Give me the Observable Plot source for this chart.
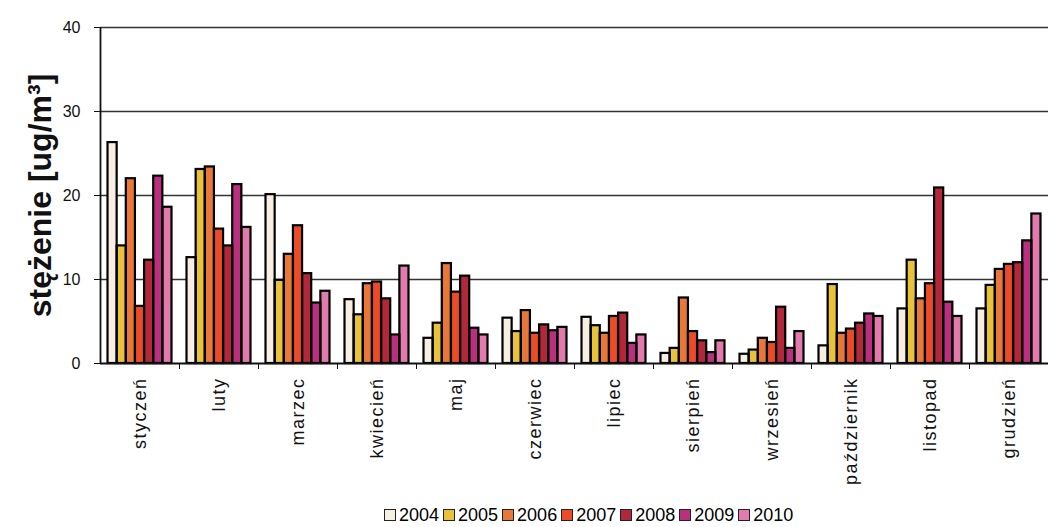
<!DOCTYPE html>
<html>
<head>
<meta charset="utf-8">
<script src="https://cdn.jsdelivr.net/npm/d3@7"></script>
<script src="https://cdn.jsdelivr.net/npm/@observablehq/plot@0.6"></script>
<style>
  html, body { margin: 0; padding: 0; background: #fff; }
  #chart { width: 1052px; }
  .legend { display: flex; margin-left: 384px; margin-top: 15px; font-family: "Liberation Sans", Arial, sans-serif; font-size: 18px; color: #000; line-height: 20px; }
  .legend .item { display: flex; align-items: center; margin-right: 4px; }
  .legend .sw { width: 10px; height: 10px; border: 1.5px solid #222; margin-right: 3px; }
  svg [aria-label="x-axis tick label"] text { letter-spacing: 1.5px; }
</style>
</head>
<body>
<div id="chart"></div>
<script>
const months = ["styczeń", "luty", "marzec", "kwiecień", "maj", "czerwiec", "lipiec", "sierpień", "wrzesień", "październik", "listopad", "grudzień"];
const years = ["2004", "2005", "2006", "2007", "2008", "2009", "2010"];
const colors = ["#f7f0e2", "#e8c23a", "#e8783a", "#eb4b27", "#b0283a", "#b8307e", "#e27aae"];
const yTicks = [0, 10, 20, 30, 40];
const yLabel = "stężenie [ug/m³]";

// values per year, in month order
const v2004 = [26.3, 12.6, 20.1, 7.6, 3.0, 5.4, 5.5, 1.2, 1.1, 2.1, 6.5, 6.5];
const v2005 = [14.0, 23.1, 9.9, 5.8, 4.8, 3.8, 4.5, 1.8, 1.6, 9.4, 12.3, 9.3];
const v2006 = [22.0, 23.4, 13.0, 9.5, 11.9, 6.3, 3.6, 7.8, 3.0, 3.6, 7.7, 11.2];
const v2007 = [6.8, 16.0, 16.4, 9.7, 8.5, 3.6, 5.6, 3.8, 2.5, 4.1, 9.5, 11.8];
const v2008 = [12.3, 14.0, 10.7, 7.7, 10.4, 4.6, 6.0, 2.7, 6.7, 4.8, 20.9, 12.0];
const v2009 = [22.3, 21.3, 7.2, 3.4, 4.2, 3.9, 2.4, 1.3, 1.8, 5.9, 7.3, 14.6];
const v2010 = [18.6, 16.2, 8.6, 11.6, 3.4, 4.3, 3.4, 2.7, 3.8, 5.6, 5.6, 17.8];
const series = [v2004, v2005, v2006, v2007, v2008, v2009, v2010];

const data = [];
months.forEach((m, i) => {
  years.forEach((yr, j) => {
    data.push({month: m, mi: i, year: yr, yi: j, value: series[j][i]});
  });
});

const groupPad = 0.095;
const barW = (1 - 2 * groupPad) / years.length;
const barX1 = d => d.mi + groupPad + d.yi * barW;
const barX2 = d => d.mi + groupPad + (d.yi + 1) * barW;

const font = '"Liberation Sans", Arial, sans-serif';

const plot = Plot.plot({
  width: 1052,
  height: 490,
  marginLeft: 100,
  marginRight: 4,
  marginTop: 27,
  marginBottom: 127,
  style: {fontFamily: font, fontSize: "16px", color: "#111", background: "#fff"},
  x: {domain: [0, months.length], range: [100, 1048]},
  y: {domain: [0, 40]},
  color: {domain: years, range: colors},
  marks: [
    Plot.ruleY([10, 20, 30, 40], {stroke: "#333", strokeWidth: 1.6}),
    Plot.rectY(data, {x1: barX1, x2: barX2, y1: 0, y2: "value", fill: "year"}),
    Plot.rectY(data, {x1: barX1, x2: barX2, y1: 0, y2: "value", fill: "none", stroke: "#000", strokeWidth: 2.2}),
    Plot.ruleY([0], {stroke: "#111", strokeWidth: 1.8}),
    Plot.ruleX([0], {y1: 0, y2: 40, stroke: "#111", strokeWidth: 1.8}),
    Plot.axisY({ticks: yTicks, tickSize: 6, tickPadding: 14, fontSize: 16, label: null, tickFormat: d => String(d)}),
    Plot.axisX({ticks: d3.range(1, months.length), tickSize: 6, tickFormat: () => "", label: null}),
    Plot.axisX({
      ticks: d3.range(months.length).map(i => i + 0.5),
      tickFormat: t => months[Math.floor(t)],
      tickSize: 0,
      tickPadding: 14,
      tickRotate: -90,
      fontSize: 18,
      label: null
    }),
    Plot.text([yLabel], {frameAnchor: "left", textAnchor: "middle", rotate: -90, dx: -60, fontSize: 32, fontWeight: "bold", fontFamily: '"Liberation Sans", Arial, sans-serif', fill: "#111"})
  ]
});

const container = document.getElementById("chart");
container.appendChild(plot);

const legend = document.createElement("div");
legend.className = "legend";
years.forEach((yr, j) => {
  const item = document.createElement("div");
  item.className = "item";
  const sw = document.createElement("span");
  sw.className = "sw";
  sw.style.background = colors[j];
  const label = document.createElement("span");
  label.textContent = yr;
  item.appendChild(sw);
  item.appendChild(label);
  legend.appendChild(item);
});
container.appendChild(legend);
</script>
</body>
</html>
